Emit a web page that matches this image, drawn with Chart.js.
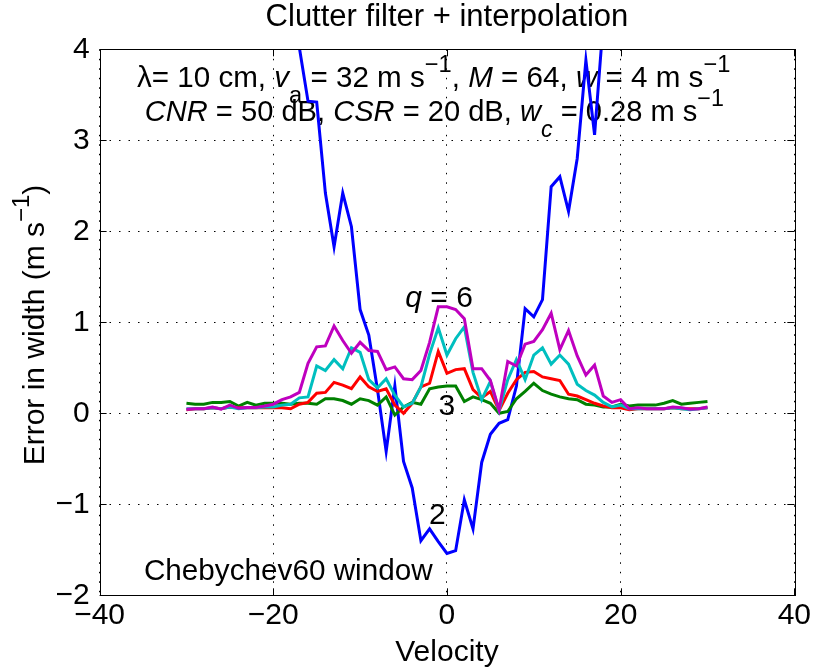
<!DOCTYPE html>
<html>
<head>
<meta charset="utf-8">
<script src="https://cdn.jsdelivr.net/npm/chart.js@4/dist/chart.umd.min.js"></script>
<style>
  body { margin: 0; background: #fff; }
  #wrap { width: 813px; height: 669px; }
</style>
</head>
<body>
<div id="wrap"><canvas id="chart" width="813" height="669"></canvas></div>
<script>
// velocity bins (m/s)
const velocity = [-30, -29, -28, -27, -26, -25, -24, -23, -22, -21, -20, -19, -18, -17, -16, -15, -14, -13, -12, -11,
  -10, -9, -8, -7, -6, -5, -4, -3, -2, -1, 0, 1, 2, 3, 4, 5, 6, 7, 8, 9,
  10, 11, 12, 13, 14, 15, 16, 17, 18, 19, 20, 21, 22, 23, 24, 25, 26, 27, 28, 29, 30];

// error in width for each interpolation order q
const q2 = [null, null, null, null, null, null, null, null, null, null, null, null, 4.7, 4.02, 3.43, 3.42, 2.42, 1.83, 2.42, 2.05,
  1.14, 0.86, 0.26, -0.42, 0.30, -0.53, -0.82, -1.40, -1.27, -1.41, -1.54, -1.51, -0.95, -1.27, -0.54, -0.23, -0.11, -0.07, 0.30, 1.15,
  1.06, 1.25, 2.49, 2.60, 2.22, 2.80, 3.88, 3.06, 4.3, null, null, null, null, null, null, null, null, null, null, null, null];
const q3 = [0.11, 0.10, 0.10, 0.12, 0.12, 0.13, 0.08, 0.12, 0.09, 0.11, 0.11, 0.11, 0.10, 0.11, 0.11, 0.10, 0.16, 0.16, 0.14, 0.10,
  0.16, 0.14, 0.09, 0.18, -0.02, 0.07, 0.12, 0.10, 0.27, 0.29, 0.30, 0.30, 0.13, 0.18, 0.15, 0.11, 0.00, 0.02, 0.16, 0.24,
  0.33, 0.25, 0.21, 0.18, 0.16, 0.15, 0.10, 0.09, 0.07, 0.07, 0.10, 0.08, 0.09, 0.09, 0.09, 0.11, 0.14, 0.10, 0.11, 0.12, 0.13];
const q4 = [0.04, 0.05, 0.05, 0.06, 0.05, 0.07, 0.06, 0.06, 0.06, 0.06, 0.06, 0.06, 0.05, 0.10, 0.12, 0.22, 0.23, 0.34, 0.31, 0.27,
  0.40, 0.29, 0.24, 0.27, 0.09, 0.00, 0.11, 0.29, 0.33, 0.68, 0.44, 0.48, 0.49, 0.26, 0.17, 0.24, 0.03, 0.22, 0.37, 0.45,
  0.46, 0.40, 0.38, 0.36, 0.21, 0.19, 0.15, 0.11, 0.08, 0.06, 0.06, 0.04, 0.05, 0.05, 0.05, 0.05, 0.06, 0.05, 0.05, 0.05, 0.06];
const q5 = [0.05, 0.05, 0.05, 0.06, 0.05, 0.07, 0.05, 0.06, 0.06, 0.07, 0.07, 0.09, 0.10, 0.17, 0.18, 0.52, 0.47, 0.59, 0.49, 0.72,
  0.67, 0.37, 0.28, 0.38, 0.20, 0.07, 0.11, 0.29, 0.65, 0.94, 0.64, 0.82, 0.95, 0.45, 0.15, 0.35, 0.03, 0.37, 0.59, 0.37,
  0.64, 0.72, 0.54, 0.64, 0.54, 0.32, 0.25, 0.20, 0.12, 0.07, 0.09, 0.05, 0.05, 0.05, 0.05, 0.05, 0.06, 0.05, 0.04, 0.05, 0.06];
const q6 = [0.045, 0.05, 0.05, 0.07, 0.045, 0.09, 0.055, 0.065, 0.065, 0.08, 0.10, 0.15, 0.18, 0.23, 0.55, 0.73, 0.74, 0.96, 0.80, 0.66,
  0.78, 0.69, 0.68, 0.48, 0.51, 0.38, 0.37, 0.47, 0.78, 1.17, 1.17, 1.14, 1.04, 0.49, 0.49, 0.36, 0.04, 0.57, 0.52, 0.76,
  0.79, 0.92, 1.10, 0.70, 0.91, 0.63, 0.42, 0.53, 0.19, 0.12, 0.15, 0.05, 0.06, 0.05, 0.05, 0.05, 0.07, 0.06, 0.045, 0.05, 0.07];

const xTicks = [-40, -20, 0, 20, 40];
const yTicks = [-2, -1, 0, 1, 2, 3, 4];

const FAM = '"Liberation Sans", Arial, Helvetica, sans-serif';
const FS = 30;

function pts(arr) {
    return velocity.map((v, i) => ({ x: v, y: arr[i] }));
}

// text made of pieces: [text, style] where style has i (italic), _ (sub), ^ (sup)
function richWidth(ctx, parts, fs) {
    let w = 0;
    parts.forEach(([t, st]) => {
        st = st || '';
        const size = (st.includes('_') || st.includes('^')) ? fs * 0.8 : fs;
        ctx.font = (st.includes('i') ? 'italic ' : '') + size + 'px ' + FAM;
        w += ctx.measureText(t).width;
    });
    return w;
}
function richText(ctx, x, y, parts, align, fs) {
    fs = fs || FS;
    let cx = x;
    if (align === 'center') cx = x - richWidth(ctx, parts, fs) / 2;
    ctx.textAlign = 'left';
    ctx.textBaseline = 'alphabetic';
    ctx.fillStyle = '#000';
    parts.forEach(([t, st]) => {
        st = st || '';
        let size = fs, dy = 0;
        if (st.includes('_')) { size = fs * 0.8; dy = fs * 0.55; }
        if (st.includes('^')) { size = fs * 0.8; dy = -fs * 0.5; }
        ctx.font = (st.includes('i') ? 'italic ' : '') + size + 'px ' + FAM;
        ctx.fillText(t, cx, y + dy);
        cx += ctx.measureText(t).width;
    });
}

// text annotations, frame and inner tick marks
const matlabLook = {
    id: 'matlabLook',
    beforeDatasetsDraw(chart) {
        const ctx = chart.ctx;
        const xs = chart.scales.x, ys = chart.scales.y;
        ctx.save();
        richText(ctx, xs.getPixelForValue(-35.7), ys.getPixelForValue(3.586), [
            ['\u03bb= 10 cm, '], ['v', 'i'], ['a', '_'], [' = 32 m s'], ['\u22121', '^'],
            [', '], ['M', 'i'], [' = 64, '], ['w', 'i'], [' = 4 m s'], ['\u22121', '^']], 'left', 29.6);
        richText(ctx, xs.getPixelForValue(-34.8), ys.getPixelForValue(3.213), [
            ['CNR', 'i'], [' = 50 dB, '], ['CSR', 'i'], [' = 20 dB, '], ['w', 'i'], ['c', 'i_'],
            [' = 0.28 m s'], ['\u22121', '^']], 'left', 29.1);
        richText(ctx, xs.getPixelForValue(-4.8), ys.getPixelForValue(1.168), [['q', 'i'], [' = 6']]);
        richText(ctx, xs.getPixelForValue(0), ys.getPixelForValue(-0.02), [['3']], 'center');
        richText(ctx, xs.getPixelForValue(-1.1), ys.getPixelForValue(-1.22), [['2']], 'center');
        richText(ctx, xs.getPixelForValue(-34.9), ys.getPixelForValue(-1.83), [['Chebychev60 window']], 'left', 29.7);
        ctx.restore();
    },
    afterDraw(chart) {
        const ctx = chart.ctx;
        const a = chart.chartArea;
        const xs = chart.scales.x, ys = chart.scales.y;
        ctx.save();
        ctx.strokeStyle = '#000';
        ctx.lineWidth = 1;
        ctx.strokeRect(Math.round(a.left) + 0.5, Math.round(a.top) + 0.5,
            Math.round(a.right - a.left), Math.round(a.bottom - a.top));
        const tl = 7;
        ctx.beginPath();
        xTicks.forEach(v => {
            const px = Math.round(xs.getPixelForValue(v)) + 0.5;
            ctx.moveTo(px, a.bottom); ctx.lineTo(px, a.bottom - tl);
            ctx.moveTo(px, a.top); ctx.lineTo(px, a.top + tl);
        });
        yTicks.forEach(v => {
            const py = Math.round(ys.getPixelForValue(v)) + 0.5;
            ctx.moveTo(a.left, py); ctx.lineTo(a.left + tl, py);
            ctx.moveTo(a.right, py); ctx.lineTo(a.right - tl, py);
        });
        ctx.stroke();

        // title and axis labels
        const cx = (a.left + a.right) / 2;
        richText(ctx, cx, 26, [['Clutter filter + interpolation']], 'center', 31);
        richText(ctx, cx, 661, [['Velocity']], 'center');
        ctx.translate(44, 325);
        ctx.rotate(-Math.PI / 2);
        richText(ctx, 0, 0, [['Error in width (m s'], ['\u22121', '^'], [')']], 'center');
        ctx.restore();
    }
};

const lineStyle = { borderWidth: 3, pointRadius: 0, tension: 0, fill: false };

new Chart(document.getElementById('chart'), {
    type: 'line',
    data: {
        datasets: [
            { ...lineStyle, label: 'q = 2', data: pts(q2), borderColor: '#0000ff', order: 5 },
            { ...lineStyle, label: 'q = 3', data: pts(q3), borderColor: '#008000', order: 4 },
            { ...lineStyle, label: 'q = 4', data: pts(q4), borderColor: '#ff0000', order: 3 },
            { ...lineStyle, label: 'q = 5', data: pts(q5), borderColor: '#00bfbf', order: 2 },
            { ...lineStyle, label: 'q = 6', data: pts(q6), borderColor: '#bf00bf', order: 1 }
        ]
    },
    options: {
        responsive: false,
        animation: false,
        devicePixelRatio: 1,
        layout: { padding: { top: 49.3, right: 18.2, left: 0, bottom: 0 } },
        plugins: { legend: { display: false }, tooltip: { enabled: false }, title: { display: false } },
        scales: {
            x: {
                type: 'linear', min: -40, max: 40,
                afterBuildTicks: s => { s.ticks = xTicks.map(v => ({ value: v })); },
                afterFit: s => { s.height = 73.7; },
                ticks: {
                    color: '#000', padding: 2, maxRotation: 0,
                    font: { family: FAM, size: FS },
                    callback: v => String(v).replace('-', '\u2212')
                },
                grid: { color: '#000', lineWidth: 1, drawTicks: false },
                border: { display: false, dash: [1.5, 8] }
            },
            y: {
                type: 'linear', min: -2, max: 4,
                afterBuildTicks: s => { s.ticks = yTicks.map(v => ({ value: v })); },
                afterFit: s => { s.width = 99.6; },
                ticks: {
                    color: '#000', padding: 10,
                    font: { family: FAM, size: FS },
                    callback: v => String(v).replace('-', '\u2212')
                },
                grid: { color: '#000', lineWidth: 1, drawTicks: false },
                border: { display: false, dash: [1.5, 8] }
            }
        }
    },
    plugins: [matlabLook]
});
</script>
</body>
</html>
